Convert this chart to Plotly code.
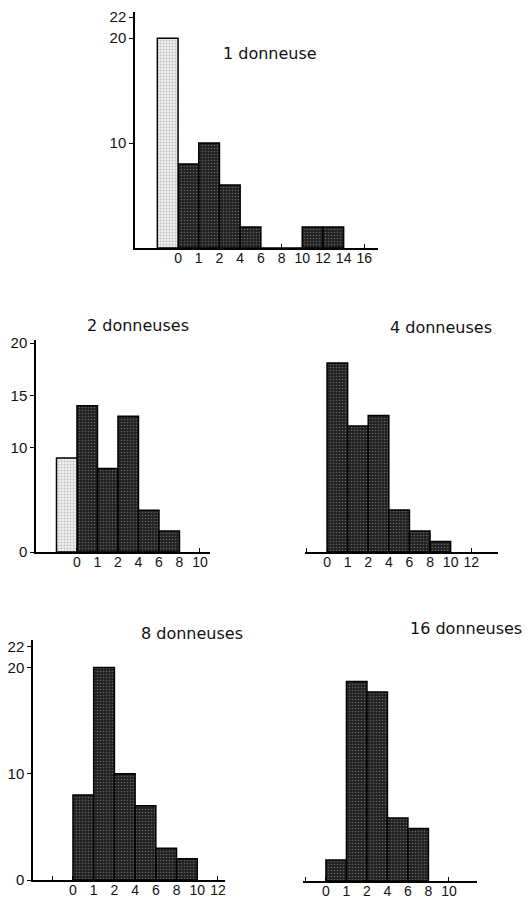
import plotly.graph_objects as go

# ---- data ----
edges_1 = ["0", "1", "2", "4", "6", "8", "10", "12", "14", "16"]
counts_1 = [8, 10, 6, 2, 0, 0, 2, 2]
control_1 = 20

edges_2 = ["0", "1", "2", "4", "6", "8", "10"]
counts_2 = [14, 8, 13, 4, 2]
control_2 = 9

edges_4 = ["0", "1", "2", "4", "6", "8", "10", "12"]
counts_4 = [18, 12, 13, 4, 2, 1]

edges_8 = ["0", "1", "2", "4", "6", "8", "10", "12"]
counts_8 = [8, 20, 10, 7, 3, 2]

edges_16 = ["0", "1", "2", "4", "6", "8", "10"]
counts_16 = [2, 19, 18, 6, 5]

titles = ["1 donneuse", "2 donneuses", "4 donneuses", "8 donneuses", "16 donneuses"]

W, H = 528, 899
FONT = "Liberation Sans"

dark_pattern = dict(shape=".", size=3, solidity=0.22, fgcolor="#a0a0a0", bgcolor="#222222")
light_pattern = dict(shape=".", size=3, solidity=0.4, fgcolor="#8c8c8c", bgcolor="#f2f2f2")
outline = dict(color="black", width=1.5)

fig = go.Figure()

panels = [
    dict(c=counts_1, ctrl=control_1, e=edges_1, xp=(135, 378), xr=(-2.08, 9.66), yp=(12, 248), yr=(0, 22.5),
         yt=[10, 20, 22], left=False, show_y=True, tp=(270, 53)),
    dict(c=counts_2, ctrl=control_2, e=edges_2, xp=(36, 210), xr=(-2.0, 6.49), yp=(340, 552), yr=(0, 20.3),
         yt=[0, 10, 15, 20], left=False, show_y=True, tp=(138, 325)),
    dict(c=counts_4, ctrl=None, e=edges_4, xp=(305, 498), xr=(-1.07, 8.3), yp=(342, 552), yr=(0, 20),
         yt=[], left=True, show_y=False, tp=(441, 327)),
    dict(c=counts_8, ctrl=None, e=edges_8, xp=(33, 225), xr=(-1.93, 7.34), yp=(640, 880), yr=(0, 22.6),
         yt=[0, 10, 20, 22], left=True, show_y=True, tp=(192, 633)),
    dict(c=counts_16, ctrl=None, e=edges_16, xp=(303, 477), xr=(-1.12, 7.37), yp=(671, 881), yr=(0, 20),
         yt=[], left=True, show_y=False, tp=(466, 628)),
]

annotations = []
for i, p in enumerate(panels):
    k = "" if i == 0 else str(i + 1)
    xa, ya = "x" + k, "y" + k
    xs = [j + 0.5 for j in range(len(p["c"]))]
    fig.add_trace(go.Bar(x=xs, y=p["c"], width=1, xaxis=xa, yaxis=ya,
                         marker=dict(color="#2a2a2a", pattern=dark_pattern, line=outline),
                         showlegend=False, hoverinfo="skip"))
    if p["ctrl"] is not None:
        fig.add_trace(go.Bar(x=[-0.5], y=[p["ctrl"]], width=1, xaxis=xa, yaxis=ya,
                             marker=dict(color="#e0e0e0", pattern=light_pattern, line=outline),
                             showlegend=False, hoverinfo="skip"))
    tickvals = list(range(len(p["e"])))
    ticktext = list(p["e"])
    if p["left"]:
        tickvals = [-1] + tickvals
        ticktext = [""] + ticktext
    fig.layout["xaxis" + k] = dict(
        domain=[p["xp"][0] / W, p["xp"][1] / W], range=list(p["xr"]), anchor=ya,
        showline=True, linecolor="black", linewidth=1.5, showgrid=False, zeroline=False,
        tickmode="array", tickvals=tickvals, ticktext=ticktext, automargin=False,
        ticks="inside", ticklen=4, tickwidth=1.2, tickcolor="black", ticklabelstandoff=-4,
        tickfont=dict(family=FONT, size=14, color="#111"), fixedrange=True)
    fig.layout["yaxis" + k] = dict(
        domain=[1 - p["yp"][1] / H, 1 - p["yp"][0] / H], range=list(p["yr"]), anchor=xa,
        visible=p["show_y"], showline=True, linecolor="black", linewidth=1.5, automargin=False,
        showgrid=False, zeroline=False, tickmode="array", tickvals=p["yt"],
        ticktext=[str(v) for v in p["yt"]], ticks="outside", ticklen=4, tickwidth=1.2,
        tickcolor="black", tickfont=dict(family=FONT, size=15, color="#111"), fixedrange=True)
    annotations.append(dict(text=titles[i], x=p["tp"][0] / W, y=1 - p["tp"][1] / H,
                            xref="paper", yref="paper", xanchor="center", yanchor="middle",
                            showarrow=False, font=dict(family="DejaVu Sans", size=16, color="#111")))

fig.update_layout(width=W, height=H, margin=dict(l=0, r=0, t=0, b=0, autoexpand=False),
                  paper_bgcolor="white", plot_bgcolor="white", barmode="overlay",
                  annotations=annotations)

fig.write_html("out.html", config={"displayModeBar": False},
               post_script="document.body.style.margin='0px';document.body.style.overflow='hidden';")
